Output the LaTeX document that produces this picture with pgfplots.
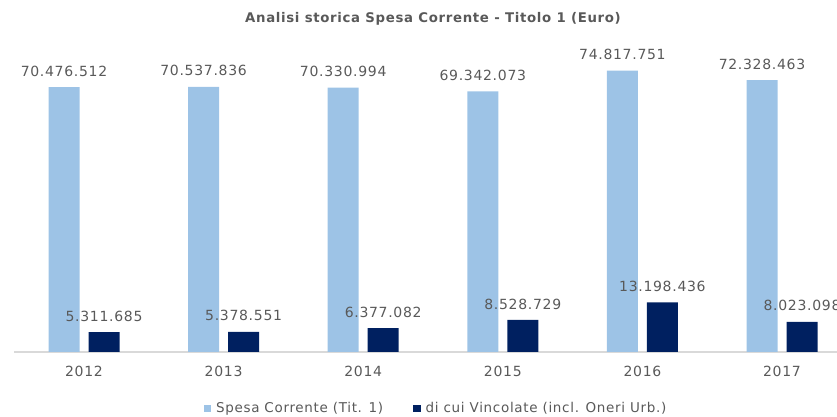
\documentclass[border=0pt]{standalone}
\usepackage{pgfplots}
\pgfplotsset{compat=1.18}
\usepackage{pgfplotstable}
\usepackage{fontspec}
\setmainfont{DejaVu Sans}
\newfontfamily\lblfont[LetterSpace=5]{DejaVu Sans}
\definecolor{cspesa}{HTML}{9DC3E6}
\definecolor{cvinc}{HTML}{002060}
\definecolor{ctext}{HTML}{595959}
\definecolor{cline}{HTML}{D9D9D9}

\pgfplotstableread{
x y lab
0 70476512 70.476.512
1 70537836 70.537.836
2 70330994 70.330.994
3 69342073 69.342.073
4 74817751 74.817.751
5 72328463 72.328.463
}\spesa
\pgfplotstableread{
x y lab
0 5311685 5.311.685
1 5378551 5.378.551
2 6377082 6.377.082
3 8528729 8.528.729
4 13198436 13.198.436
5 8023098 8.023.098
}\vincolate

\begin{document}
\begin{tikzpicture}[x=1pt,y=1pt]
\useasboundingbox (0,0) rectangle (837,417);
\node[font=\lblfont\bfseries\fontsize{13.3}{15}\selectfont,text=ctext] at (433,398) {Analisi storica Spesa Corrente - Titolo 1 (Euro)};
\begin{axis}[at={(14.2pt,65pt)},anchor=south west,scale only axis,
  width=822.8pt,height=300.8pt,
  xmin=-0.5,xmax=5.394,ymin=0,ymax=80000000,
  ybar=9pt,bar width=31pt,clip=false,
  axis x line*=bottom,axis y line=none,
  x axis line style={draw=cline,line width=1.5pt},
  xtick=data,xticklabels={2012,2013,2014,2015,2016,2017},
  major tick length=0pt,
  xticklabel style={anchor=center,yshift=-19pt,font=\lblfont\fontsize{14}{16}\selectfont,text=ctext},
  point meta=explicit symbolic,
  nodes near coords,
  every node near coord/.append style={anchor=center,yshift=16pt,font=\lblfont\fontsize{14}{16}\selectfont,text=ctext},
  legend columns=2,
  legend style={draw=none,fill=none,at={(0.5126,-0.188)},anchor=center,
    font=\lblfont\fontsize{13.5}{16}\selectfont,text=ctext,
    /tikz/every odd column/.append style={column sep=3pt},
    /tikz/every even column/.append style={column sep=28pt}},
  legend image code/.code={\fill[#1] (0pt,-3.5pt) rectangle (7.5pt,4pt);},
]
\addplot[fill=cspesa,draw=none] table[x=x,y=y,meta=lab] {\spesa};
\addlegendentry{Spesa Corrente (Tit. 1)}
\addplot[fill=cvinc,draw=none] table[x=x,y=y,meta=lab] {\vincolate};
\addlegendentry{di cui Vincolate (incl. Oneri Urb.)}
\end{axis}
\end{tikzpicture}
\end{document}
